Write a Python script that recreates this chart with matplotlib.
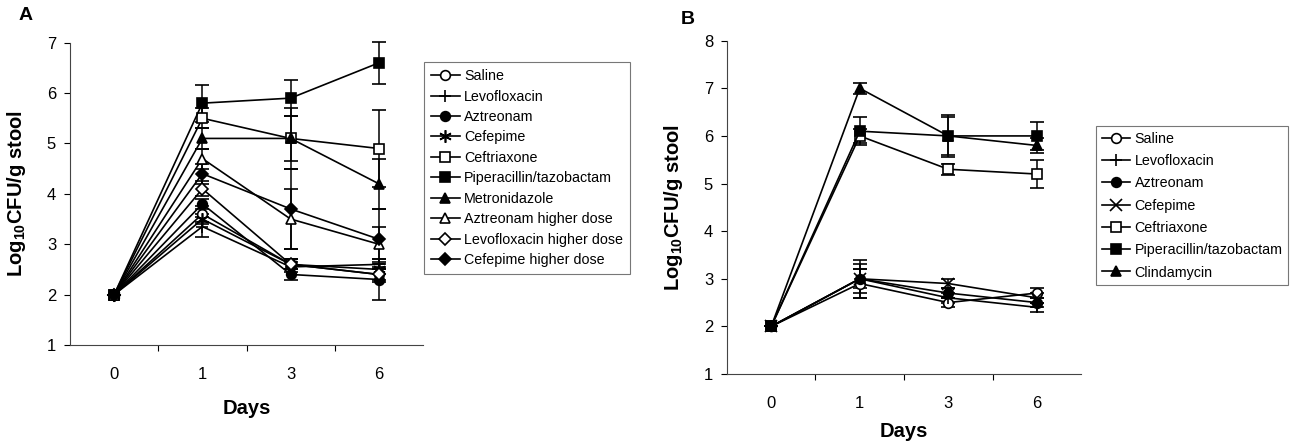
import matplotlib
matplotlib.use("Agg")
import matplotlib.pyplot as plt
import numpy as np

plt.rcParams['font.family'] = ['Liberation Sans', 'DejaVu Sans']
plt.rcParams['mathtext.fontset'] = 'custom'
plt.rcParams['mathtext.rm'] = 'Liberation Sans:bold'
plt.rcParams['mathtext.bf'] = 'Liberation Sans:bold'

days = ['0', '1', '3', '6']

# Panel A
a_labels = ['Saline', 'Levofloxacin', 'Aztreonam', 'Cefepime', 'Ceftriaxone',
            'Piperacillin/tazobactam', 'Metronidazole', 'Aztreonam higher dose',
            'Levofloxacin higher dose', 'Cefepime higher dose']
a_saline = [2, 3.6, 2.6, 2.4]
a_levo = [2, 3.35, 2.55, 2.6]
a_aztreonam = [2, 3.8, 2.4, 2.3]
a_cefepime = [2, 3.5, 2.6, 2.5]
a_ceftriaxone = [2, 5.5, 5.1, 4.9]
a_piptazo = [2, 5.8, 5.9, 6.6]
a_metro = [2, 5.1, 5.1, 4.2]
a_azt_hi = [2, 4.7, 3.5, 3.0]
a_levo_hi = [2, 4.1, 2.6, 2.4]
a_cef_hi = [2, 4.4, 3.7, 3.1]

a_err_saline = [0, 0.15, 0.1, 0.15]
a_err_levo = [0, 0.2, 0.1, 0.1]
a_err_aztreonam = [0, 0.1, 0.1, 0.4]
a_err_cefepime = [0, 0.1, 0.1, 0.1]
a_err_ceftriaxone = [0, 0.2, 0.45, 0.77]
a_err_piptazo = [0, 0.37, 0.35, 0.42]
a_err_metro = [0, 0.2, 0.6, 0.5]
a_err_azt_hi = [0, 0.2, 0.6, 0.35]
a_err_levo_hi = [0, 0.15, 0.1, 0.1]
a_err_cef_hi = [0, 0.2, 0.8, 0.6]

# Panel B
b_labels = ['Saline', 'Levofloxacin', 'Aztreonam', 'Cefepime', 'Ceftriaxone',
            'Piperacillin/tazobactam', 'Clindamycin']
b_saline = [2, 2.9, 2.5, 2.7]
b_levo = [2, 3.0, 2.6, 2.4]
b_aztreonam = [2, 3.0, 2.7, 2.5]
b_cefepime = [2, 3.0, 2.9, 2.6]
b_ceftriaxone = [2, 6.0, 5.3, 5.2]
b_piptazo = [2, 6.1, 6.0, 6.0]
b_clinda = [2, 7.0, 6.0, 5.8]

b_err_saline = [0, 0.3, 0.1, 0.1]
b_err_levo = [0, 0.4, 0.1, 0.1]
b_err_aztreonam = [0, 0.3, 0.1, 0.1]
b_err_cefepime = [0, 0.2, 0.1, 0.1]
b_err_ceftriaxone = [0, 0.15, 0.12, 0.3]
b_err_piptazo = [0, 0.3, 0.45, 0.3]
b_err_clinda = [0, 0.12, 0.4, 0.15]

AST = (6, 2, 0)
a_styles = [('o', 'white'), ('+', 'black'), ('o', 'black'), (AST, 'black'),
            ('s', 'white'), ('s', 'black'), ('^', 'black'), ('^', 'white'),
            ('D', 'white'), ('D', 'black')]
b_styles = [('o', 'white'), ('+', 'black'), ('o', 'black'), ('x', 'black'),
            ('s', 'white'), ('s', 'black'), ('^', 'black')]

fig = plt.figure(figsize=(12.93, 4.42), dpi=100)
W, H = 1293, 442
axA = fig.add_axes([70 / W, 1 - 345 / H, (423 - 70) / W, (345 - 42.7) / H])
axB = fig.add_axes([727 / W, 1 - 374 / H, (1081 - 727) / W, (374 - 40.7) / H])

x = np.arange(len(days))


def draw(ax, series, errs, labels, styles):
    handles = []
    for ys, es, lab, (m, fc) in zip(series, errs, labels, styles):
        ms = 7 if m not in ('D',) else 6
        if m in ('+', 'x', AST):
            ms = 9
        h = ax.errorbar(x, ys, yerr=es, color='black', lw=1.2, marker=m,
                        markersize=ms, markerfacecolor=fc,
                        markeredgecolor='black', markeredgewidth=1.2,
                        capsize=5, elinewidth=1.1, capthick=1.1, label=lab,
                        clip_on=False)
        handles.append(h)
    ax.set_xlim(-0.5, 3.5)
    ax.set_xticks(x)
    ax.set_xticklabels(days, fontsize=12)
    ax.set_xticks([0.5, 1.5, 2.5], minor=True)
    ax.tick_params(axis='x', which='major', length=0, pad=16)
    ax.tick_params(axis='x', which='minor', length=4, direction='out', width=0.8)
    ax.tick_params(axis='y', length=4, direction='out', width=0.8, labelsize=12, pad=6)
    for s in ('top', 'right'):
        ax.spines[s].set_visible(False)
    for s in ('left', 'bottom'):
        ax.spines[s].set_linewidth(0.8)
        ax.spines[s].set_color('#444444')
    ax.set_ylabel('Log$_{10}$CFU/g stool', fontsize=14.5, fontweight='bold')
    ax.set_xlabel('Days', fontsize=14.5, fontweight='bold')
    return handles


hA = draw(axA,
          [a_saline, a_levo, a_aztreonam, a_cefepime, a_ceftriaxone, a_piptazo,
           a_metro, a_azt_hi, a_levo_hi, a_cef_hi],
          [a_err_saline, a_err_levo, a_err_aztreonam, a_err_cefepime,
           a_err_ceftriaxone, a_err_piptazo, a_err_metro, a_err_azt_hi,
           a_err_levo_hi, a_err_cef_hi],
          a_labels, a_styles)
axA.set_ylim(1, 7)
axA.set_yticks(range(1, 8))
axA.yaxis.set_label_coords(-0.119, 0.5)
axA.xaxis.set_label_coords(0.5, -0.18)

hB = draw(axB,
          [b_saline, b_levo, b_aztreonam, b_cefepime, b_ceftriaxone, b_piptazo,
           b_clinda],
          [b_err_saline, b_err_levo, b_err_aztreonam, b_err_cefepime,
           b_err_ceftriaxone, b_err_piptazo, b_err_clinda],
          b_labels, b_styles)
axB.set_ylim(1, 8)
axB.set_yticks(range(1, 9))
axB.yaxis.set_label_coords(-0.119, 0.5)
axB.xaxis.set_label_coords(0.5, -0.145)

legA = fig.legend(handles=[h[0] for h in hA], labels=a_labels, loc='upper left',
                  bbox_to_anchor=(424 / W, 1 - 62 / H), fontsize=10.3,
                  frameon=True, fancybox=False, edgecolor='#555555',
                  handlelength=2.0, labelspacing=0.45, borderpad=0.5,
                  handletextpad=0.3, borderaxespad=0)
legA.get_frame().set_linewidth(0.8)

legB = fig.legend(handles=[h[0] for h in hB], labels=b_labels, loc='upper left',
                  bbox_to_anchor=(1096 / W, 1 - 126 / H), fontsize=10.3,
                  frameon=True, fancybox=False, edgecolor='#555555',
                  handlelength=2.0, labelspacing=0.58, borderpad=0.4,
                  handletextpad=0.3, borderaxespad=0)
legB.get_frame().set_linewidth(0.8)

fig.text(19 / W, 1 - 16 / H, 'A', fontsize=14, fontweight='bold', va='center')
fig.text(681 / W, 1 - 19 / H, 'B', fontsize=14, fontweight='bold', va='center')

fig.savefig('out.png', dpi=100)
